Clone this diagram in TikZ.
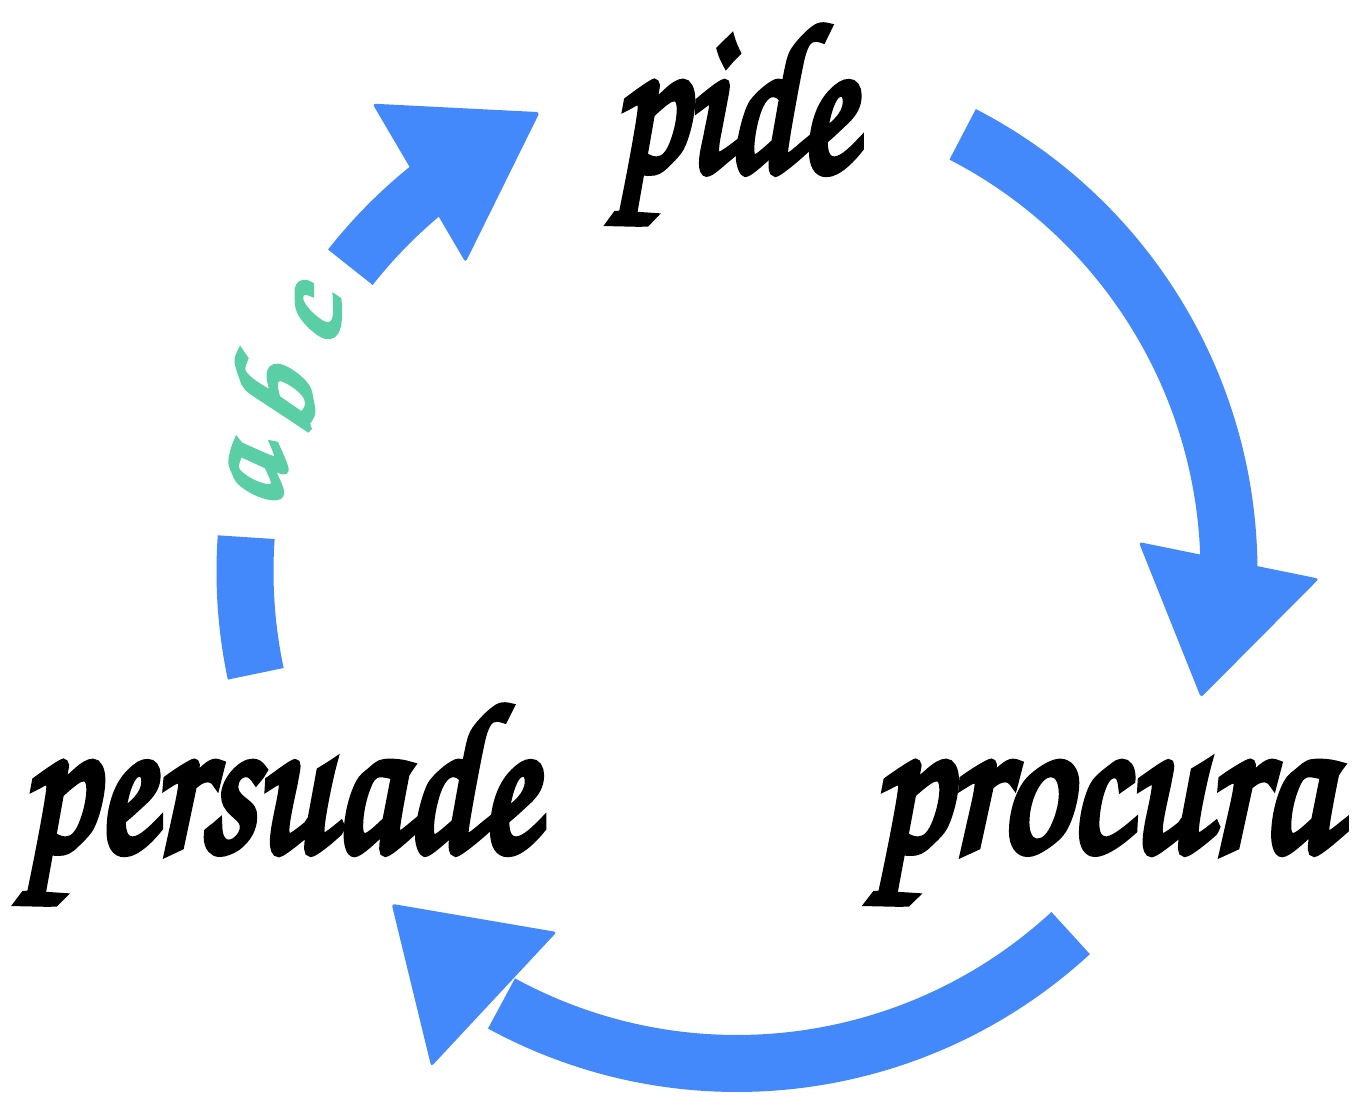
\documentclass[tikz,border=0pt]{standalone}
\usepackage{graphicx}
\usepackage{fontspec}
\newfontfamily\chorus[FakeBold=4]{TeX Gyre Chorus}
\definecolor{arrowblue}{HTML}{4389FB}
\definecolor{abcgreen}{HTML}{5ACFA5}
\begin{document}
\begin{tikzpicture}[x=1pt,y=1pt,
  word/.style={anchor=base, inner sep=0pt, font={\chorus\fontsize{212}{250}\selectfont}},
  flow/.style={draw=arrowblue, line width=57pt},
  headfill/.style={fill=arrowblue, rounded corners=3pt},
  letter/.style={text=abcgreen, inner sep=0pt, font={\chorus\fontsize{132}{150}\selectfont}}]
\useasboundingbox (0,0) rectangle (1357,-1097);
\coordinate (c) at (737,-571.5);
\node[word] (pide) at (733,-170) {\scalebox{0.78}[1]{pide}};
\node[word] (procura) at (1102,-850) {\scalebox{0.825}[1]{procura}};
\node[word] (persuade) at (278,-850) {\scalebox{0.80}[1]{persuade}};
% pide -> procura
\coordinate (b1) at ([shift={(c)}]1.3:492);
\draw[flow] ([shift={(c)}]62.7:492) arc[start angle=62.7,end angle=0.3,radius=492];
\fill[headfill] ([shift={(b1)}]-101.5:140) -- ([shift={(b1)}]-11.5:92) -- ([shift={(b1)}]168.5:92) -- cycle;
% procura -> persuade
\coordinate (b2) at ([shift={(c)}]-119.6:492);
\draw[flow] ([shift={(c)}]-47.3:492) arc[start angle=-47.3,end angle=-118.6,radius=492];
\fill[headfill] ([shift={(b2)}]137:140) -- ([shift={(b2)}]47:92) -- ([shift={(b2)}]227:92) -- cycle;
% persuade -> pide
\coordinate (b3) at (419,-183);
\draw[flow] ([shift={(c)}]192:492) arc[start angle=192,end angle=176,radius=492];
\draw[flow] ([shift={(c)}]141.8:492) arc[start angle=141.8,end angle=128.3,radius=492];
\fill[headfill] ([shift={(b3)}]30.4:140) -- ([shift={(b3)}]120.4:92) -- ([shift={(b3)}]-59.6:92) -- cycle;
\node[letter,rotate=79] (la) at ([shift={(c)}]169:490) {a};
\node[letter,rotate=69.6] (lb) at ([shift={(c)}]159.6:497) {b};
\node[letter,rotate=59] (lc) at ([shift={(c)}]149:495) {c};
\end{tikzpicture}
\end{document}
